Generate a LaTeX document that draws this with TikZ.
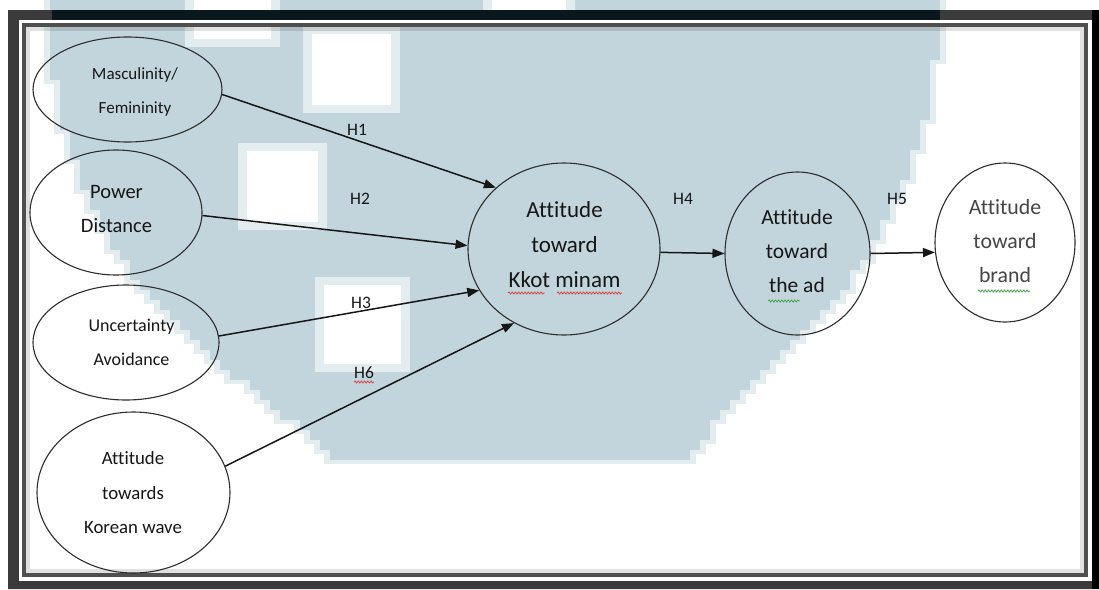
\documentclass[tikz,border=0pt]{standalone}
\usepackage{fontspec}
\setmainfont{Carlito}[Ligatures=NoCommon]
\usetikzlibrary{arrows.meta,shapes.geometric,decorations.pathmorphing}
\definecolor{wm}{HTML}{C3D5DC}
\definecolor{wmedge}{HTML}{E3ECEF}
\definecolor{framedark}{HTML}{3B3B3B}
\definecolor{framedeep}{HTML}{0A171C}
\definecolor{ink}{HTML}{161616}
\definecolor{spellred}{HTML}{D83A3A}
\definecolor{spellgreen}{HTML}{3AA040}
\tikzset{
  bubble/.style={draw=ink!90, line width=1.1pt, ellipse, inner sep=0pt},
  caption/.style={align=center, text=ink, inner sep=0pt},
  link/.style={draw=ink, line width=1.5pt, -{Triangle[length=12pt,width=9pt]}},
  hyp/.style={text=ink, font=\fontsize{17.5}{20}\selectfont, inner sep=0pt},
  wavy/.style={decorate, decoration={snake, amplitude=1.1pt, segment length=3.2pt}, line width=0.7pt},
}
\begin{document}
\begin{tikzpicture}[x=1pt,y=-1pt]
\useasboundingbox (0,0) rectangle (1099,589);
\fill[white] (0,0) rectangle (1099,589);

% pixelated background emblem, one 10-unit row at a time:
% round top, steeper lower-left flank, shorter lower-right flank
\foreach \pass in {0,1}{
  \foreach \r in {0,...,45}{
    \pgfmathsetmacro\yc{\r*10+5}
    \pgfmathsetmacro\hl{(\yc<345) ? 10*sqrt(44.3*44.3-((\yc-16)/10)^2) : 296.7-1.243*(\yc-345)}
    \pgfmathsetmacro\hr{(\yc<345) ? 10*sqrt(44.3*44.3-((\yc-16)/10)^2) : 296.7-0.95*(\yc-345)}
    \pgfmathsetmacro\xa{10*round((494-\hl)/10)}
    \pgfmathsetmacro\xb{10*round((494+\hr)/10)}
    \ifnum\pass=0
      \fill[wmedge] (\xa-6,\r*10) rectangle (\xb+6,\r*10+14);
    \else
      \fill[wm] (\xa,\r*10) rectangle (\xb,\r*10+10);
    \fi
  }
}
% light blocks inside the emblem
\foreach \xa/\ya/\xb/\yb in {185/-10/280/47, 303/26/400/113, 238/143/327/230, 315/277/410/372, 483/-10/575/22}{
  \fill[wmedge] (\xa,\ya) rectangle (\xb,\yb);
  \fill[white] (\xa+9,\ya+8) rectangle (\xb-9,\yb-8);
}

% double frame
\fill[framedark,even odd rule] (8,10) rectangle (1099,589) (19,20) rectangle (1092,581);
\fill[framedeep] (52,10) rectangle (940,20);
\fill[black] (1092,10) rectangle (1099,589);
\draw[white,line width=3pt] (20.5,21.5) rectangle (1090.5,579.5);
\draw[framedark!90,line width=4pt] (24,25) rectangle (1085.5,575);
\draw[black,opacity=0.12,line width=4pt] (28,29) rectangle (1081.5,571);

% constructs
\node[bubble, minimum width=189pt, minimum height=105pt] (mf) at (127.5,89.5) {};
\node[bubble, minimum width=172pt, minimum height=125pt] (pd) at (116,212.5) {};
\node[bubble, minimum width=186pt, minimum height=115pt] (ua) at (126,342.5) {};
\node[bubble, minimum width=193pt, minimum height=161pt] (kw) at (133.5,492.5) {};
\node[bubble, minimum width=192pt, minimum height=172pt] (km) at (564,249) {};
\node[bubble, minimum width=145pt, minimum height=163pt] (ad) at (797.5,253.5) {};
\node[bubble, minimum width=140pt, minimum height=159pt] (br) at (1005,242.5) {};

\node[caption, font=\fontsize{17}{34}\selectfont] (mft) at (135,91.8) {Masculinity/\\Femininity};
\node[caption, font=\fontsize{20.5}{34}\selectfont] (pdt) at (116.5,209.2) {Power\\Distance};
\node[caption, font=\fontsize{18}{34}\selectfont] (uat) at (131.5,342.4) {Uncertainty\\Avoidance};
\node[caption, font=\fontsize{18.8}{34.5}\selectfont] (kwt) at (133,492.8) {Attitude\\towards\\Korean wave};
\node[caption, font=\fontsize{23}{35}\selectfont] (kmt) at (564.5,244.3) {Attitude\\toward\\Kkot minam};
\node[caption, font=\fontsize{21.5}{34}\selectfont] (adt) at (797,251.5) {Attitude\\toward\\the ad};
\node[caption, font=\fontsize{21.8}{34}\selectfont, text=ink!80] (brt) at (1005,241.5) {Attitude\\toward\\brand};

% spelling marks under words
\draw[wavy, spellred] (508,293) -- (545,293);
\draw[wavy, spellred] (557,293) -- (622,293);
\draw[wavy, spellred] (354,382) -- (374,382);
\draw[wavy, spellgreen] (768,301) -- (800,301);
\draw[wavy, spellgreen] (978,291) -- (1030,291);

% hypotheses
\draw[link] (mf.-3.7) -- (km.138.1);
\draw[link] (pd.-2.7) -- (km.178.8);
\draw[link] (ua.4.8) -- (km.206.6);
\draw[link] (kw.16.7) -- (km.236.1);
\draw[link] (km.-2.4) -- (ad.west);
\draw[link] (ad.east) -- (br.188.9);

\node[hyp] (h1) at (357,130) {H1};
\node[hyp] (h2) at (360,199) {H2};
\node[hyp] (h3) at (361,303) {H3};
\node[hyp] (h6) at (364,373) {H6};
\node[hyp] (h4) at (683,199) {H4};
\node[hyp] (h5) at (897,199) {H5};
\end{tikzpicture}
\end{document}
